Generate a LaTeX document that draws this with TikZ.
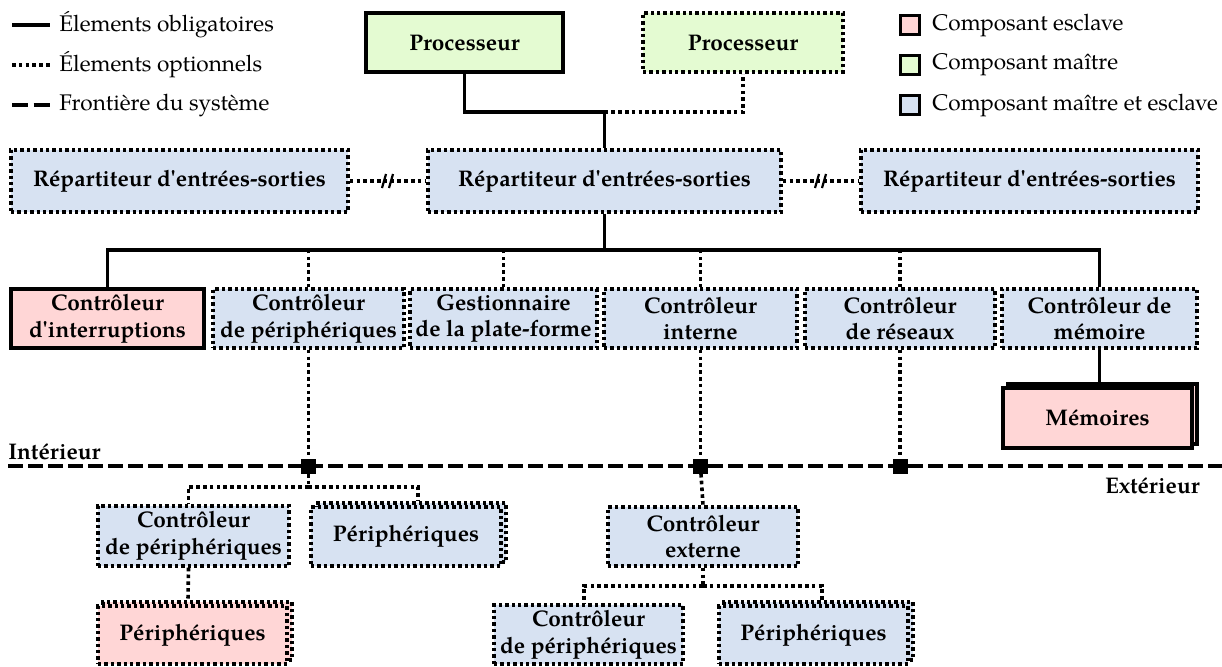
\documentclass[tikz,border=0pt]{standalone}
\usepackage{fontspec}
\setmainfont{TeX Gyre Pagella}
\usetikzlibrary{calc}

\definecolor{slavefill}{RGB}{255,214,214}
\definecolor{masterfill}{RGB}{228,251,210}
\definecolor{bothfill}{RGB}{215,226,242}

% straight apostrophe as printed in the labels
\newcommand{\apos}{\textquotesingle}

\tikzset{
  lbl/.style={font=\fontsize{11.3}{13.3}\selectfont, inner sep=0pt},
  boldlbl/.style={font=\fontsize{11.3}{13.3}\selectfont\bfseries, inner sep=0pt},
  base/.style={draw=black, inner sep=0pt, align=center,
    font=\fontsize{11.3}{13.3}\selectfont\bfseries},
  solidbox/.style={base, line width=1.8pt},
  dotbox/.style={base, line width=1.7pt, dash pattern=on 1.7pt off 1.5pt},
  rowone/.style={minimum height=31pt},
  rowtwo/.style={minimum height=29.5pt},
  slave/.style={fill=slavefill},
  master/.style={fill=masterfill},
  both/.style={fill=bothfill},
  solidline/.style={draw=black, line width=1.8pt},
  dotline/.style={draw=black, line width=1.8pt, dash pattern=on 1.8pt off 1.6pt},
  boundary/.style={draw=black, line width=1.8pt, dash pattern=on 7.5pt off 2.5pt},
  junc/.style={fill=black, inner sep=0pt, minimum size=7.5pt},
  keybox/.style={draw=black, line width=1.7pt, inner sep=0pt, minimum size=9.5pt},
  breakmark/.style={draw=black, line width=1.1pt}
}

\begin{document}
\begin{tikzpicture}[x=0.5pt,y=-0.5pt]
\useasboundingbox (0,0) rectangle (1222,666);

% ---- key: line styles
\coordinate (k1a) at (12,25);  \coordinate (k1b) at (50,25);
\coordinate (k2a) at (12,65);  \coordinate (k2b) at (50,65);
\coordinate (k3a) at (12,105); \coordinate (k3b) at (50,105);
\draw[solidline] (k1a) -- (k1b);
\draw[dotline] (k2a) -- (k2b);
\draw[draw=black, line width=1.8pt, dash pattern=on 8.2pt off 2.6pt] (k3a) -- (k3b);
\node[lbl, anchor=west] (k1t) at (59,25) {Élements obligatoires};
\node[lbl, anchor=west] (k2t) at (59,65) {Élements optionnels};
\node[lbl, anchor=west] (k3t) at (59,105) {Frontière du système};

% ---- key: component colours
\node[keybox, fill=slavefill]  (c1) at (910,25) {};
\node[keybox, fill=masterfill] (c2) at (910,65) {};
\node[keybox, fill=bothfill]   (c3) at (910,105) {};
\node[lbl, anchor=west] (c1t) at (932,25) {Composant esclave};
\node[lbl, anchor=west] (c2t) at (932,65) {Composant maître};
\node[lbl, anchor=west] (c3t) at (932,105) {Composant maître et esclave};

% ---- processors
\node[solidbox, master, minimum width=98.5pt, minimum height=29.5pt] (proc1) at (464.5,42.5) {Processeur};
\node[dotbox, master, minimum width=100pt, minimum height=29.5pt] (proc2) at (743,42.5) {Processeur};

% ---- I/O hubs
\node[dotbox, both, rowone, minimum width=168.5pt] (repl) at (179.5,181) {Répartiteur d\apos entrées-sorties};
\node[dotbox, both, rowone, minimum width=176.5pt] (repm) at (604.5,181) {Répartiteur d\apos entrées-sorties};
\node[dotbox, both, rowone, minimum width=168.5pt] (repr) at (1029.5,181) {Répartiteur d\apos entrées-sorties};

% ---- controllers
\node[solidbox, slave, rowtwo, minimum width=96.5pt] (intr) at (107.5,318.5) {Contrôleur\\d\apos interruptions};
\node[dotbox, both, rowtwo, minimum width=95.5pt] (ctrlp) at (308.5,318.5) {Contrôleur\\de périphériques};
\node[dotbox, both, rowtwo, minimum width=93.5pt] (gest) at (503.5,318.5) {Gestionnaire\\de la plate-forme};
\node[dotbox, both, rowtwo, minimum width=96.5pt] (cint) at (700.5,318.5) {Contrôleur\\interne};
\node[dotbox, both, rowtwo, minimum width=95pt] (cres) at (900,318.5) {Contrôleur\\de réseaux};
\node[dotbox, both, rowtwo, minimum width=97.5pt] (cmem) at (1099.5,318.5) {Contrôleur de\\mémoire};

% ---- memories (stacked)
\node[solidbox, slave, minimum width=94.5pt, minimum height=30pt] (memb) at (1102.5,414) {};
\node[solidbox, slave, minimum width=94.5pt, minimum height=30pt] (mem) at (1097.5,418) {Mémoires};

% ---- outside: left branch
\node[dotbox, both, minimum width=95.5pt, minimum height=30pt] (ctrlp2) at (193.5,536) {Contrôleur\\de périphériques};
\node[dotbox, both, minimum width=95pt, minimum height=29.5pt] (p1b) at (411,532.5) {};
\node[dotbox, both, minimum width=95pt, minimum height=29.5pt] (p1) at (406,536.5) {Périphériques};
\node[dotbox, slave, minimum width=94.5pt, minimum height=29pt] (prb) at (197.5,631) {};
\node[dotbox, slave, minimum width=94.5pt, minimum height=29pt] (pr) at (192.5,635) {Périphériques};

% ---- outside: middle branch
\node[dotbox, both, minimum width=95pt, minimum height=29.5pt] (cext) at (703,536.5) {Contrôleur\\externe};
\node[dotbox, both, minimum width=94.5pt, minimum height=29.5pt] (ctrlp3) at (588.5,634.5) {Contrôleur\\de périphériques};
\node[dotbox, both, minimum width=94.5pt, minimum height=29pt] (p2b) at (818.5,631) {};
\node[dotbox, both, minimum width=94.5pt, minimum height=29pt] (p2) at (813.5,635) {Périphériques};

% ---- processor links
\coordinate (j1) at (604.5,112);
\draw[solidline] (proc1.south) |- (j1) -- (repm.north);
\draw[dotline] (j1) -| (proc2.south);

% ---- links between hubs, with break marks
\draw[dotline] (repl.east) -- (repm.west);
\draw[dotline] (repm.east) -- (repr.west);
\coordinate (m1) at ($(repl.east)!0.5!(repm.west)$);
\coordinate (m2) at ($(repm.east)!0.5!(repr.west)$);
\foreach \m in {m1,m2}{
  \draw[breakmark] ($(\m)+(-6,7)$) -- ($(\m)+(-2,-7)$);
  \draw[breakmark] ($(\m)+(1,7)$) -- ($(\m)+(5,-7)$);
}

% ---- bus
\coordinate (bus) at (604.5,250);
\draw[solidline] (repm.south) -- (bus);
\draw[solidline] (intr.north) |- (bus) -| (cmem.north);
\foreach \n in {ctrlp,gest,cint,cres}{
  \draw[dotline] (\n.north) -- (\n.north |- bus);
}
\draw[solidline] (cmem.south) -- (cmem.south |- memb.north);

% ---- system boundary
\coordinate (bl) at (8,466);
\coordinate (br) at (1222,466);
\draw[boundary] (bl) -- (br);
\node[boldlbl, anchor=base west] (inside) at (8,459) {Intérieur};
\node[boldlbl, anchor=east] (outside) at (1200,486) {Extérieur};

\node[junc] (s1) at (ctrlp.south |- bl) {};
\node[junc] (s2) at (cint.south |- bl) {};
\node[junc] (s3) at (cres.south |- bl) {};
\draw[dotline] (ctrlp.south) -- (s1);
\draw[dotline] (cint.south) -- (s2);
\draw[dotline] (cres.south) -- (s3);

% ---- left branch links
\coordinate (h1) at (308.5,487);
\draw[dotline] (s1) -- (h1);
\draw[dotline] (h1) -| ($(ctrlp2.north)+(-5,0)$);
\draw[dotline] (h1) -| ($(p1b.north)+(7,0)$);
\draw[dotline] ($(ctrlp2.south)+(-5,0)$) -- ($(prb.north)+(-9.5,0)$);

% ---- middle branch links
\coordinate (h2) at (703,586);
\draw[dotline] (s2) -- (cext.north);
\draw[dotline] (cext.south) -- (h2);
\draw[dotline] (h2) -| ($(ctrlp3.north)+(-4.5,0)$);
\draw[dotline] (h2) -| ($(p2b.north)+(3.5,0)$);

\end{tikzpicture}
\end{document}
